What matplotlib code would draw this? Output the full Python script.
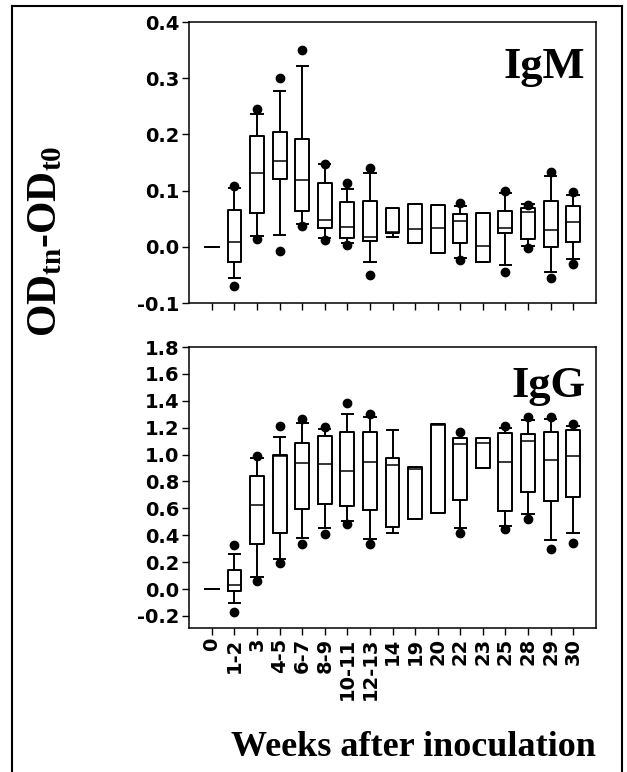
import numpy as np
import matplotlib
matplotlib.use("Agg")
import matplotlib.pyplot as plt
from matplotlib.lines import Line2D

plt.rcParams['mathtext.fontset'] = 'custom'
plt.rcParams['mathtext.rm'] = 'Liberation Serif:bold'
plt.rcParams['mathtext.bf'] = 'Liberation Serif:bold'
plt.rcParams['mathtext.it'] = 'Liberation Serif:bold'

nan = np.nan
categories = ['0', '1-2', '3', '4-5', '6-7', '8-9', '10-11', '12-13', '14',
              '19', '20', '22', '23', '25', '28', '29', '30']

# IgM
igm_q1 = [0, -0.027, 0.061, 0.120, 0.064, 0.033, 0.016, 0.011, 0.025, 0.007, -0.011, 0.007, -0.027, 0.024, 0.014, -0.001, 0.009]
igm_med = [0, 0.008, 0.131, 0.152, 0.119, 0.048, 0.035, 0.017, 0.026, 0.032, 0.034, 0.046, 0.002, 0.034, 0.062, 0.030, 0.044]
igm_q3 = [0, 0.066, 0.197, 0.204, 0.192, 0.113, 0.080, 0.082, 0.069, 0.076, 0.075, 0.059, 0.060, 0.064, 0.069, 0.082, 0.073]
igm_lo = [0, -0.056, 0.020, 0.021, 0.040, 0.015, 0.006, -0.027, 0.018, 0.007, -0.011, -0.020, -0.027, -0.033, 0.001, -0.044, -0.022]
igm_hi = [0, 0.105, 0.237, 0.278, 0.322, 0.147, 0.103, 0.132, 0.069, 0.076, 0.075, 0.073, 0.060, 0.096, 0.076, 0.126, 0.093]
igm_p5 = [nan, -0.070, 0.014, -0.008, 0.037, 0.012, 0.004, -0.051, nan, nan, nan, -0.023, nan, -0.044, -0.002, -0.056, -0.031]
igm_p95 = [nan, 0.108, 0.246, 0.300, 0.350, 0.147, 0.113, 0.141, nan, nan, nan, 0.078, nan, 0.099, 0.075, 0.133, 0.098]

# IgG
igg_q1 = [0, -0.015, 0.335, 0.417, 0.593, 0.630, 0.615, 0.585, 0.461, 0.521, 0.565, 0.662, 0.900, 0.578, 0.722, 0.655, 0.684]
igg_med = [0, 0.027, 0.625, 0.990, 0.937, 0.932, 0.875, 0.945, 0.923, 0.890, 1.220, 1.079, 1.086, 0.945, 1.101, 0.957, 0.992]
igg_q3 = [0, 0.139, 0.843, 1.000, 1.086, 1.138, 1.170, 1.165, 0.975, 0.908, 1.228, 1.124, 1.124, 1.160, 1.155, 1.168, 1.185]
igg_lo = [0, -0.104, 0.089, 0.223, 0.379, 0.454, 0.506, 0.372, 0.417, 0.521, 0.565, 0.454, 0.900, 0.469, 0.560, 0.367, 0.417]
igg_hi = [0, 0.263, 0.972, 1.131, 1.235, 1.193, 1.299, 1.279, 1.183, 0.908, 1.228, 1.124, 1.124, 1.200, 1.255, 1.265, 1.215]
igg_p5 = [nan, -0.174, 0.060, 0.193, 0.335, 0.412, 0.481, 0.332, nan, nan, nan, 0.417, nan, 0.449, 0.523, 0.300, 0.342]
igg_p95 = [nan, 0.330, 0.987, 1.215, 1.265, 1.205, 1.384, 1.299, nan, nan, nan, 1.168, nan, 1.210, 1.279, 1.279, 1.225]

igm_yticks = [-0.1, 0.0, 0.1, 0.2, 0.3, 0.4]
igg_yticks = [-0.2, 0.0, 0.2, 0.4, 0.6, 0.8, 1.0, 1.2, 1.4, 1.6, 1.8]


def make_stats(q1, med, q3, lo, hi, p5, p95):
    stats = []
    for i in range(len(q1)):
        fl = [v for v in (p5[i], p95[i]) if not np.isnan(v)]
        stats.append(dict(q1=q1[i], med=med[i], q3=q3[i], whislo=lo[i],
                          whishi=hi[i], fliers=fl))
    return stats


fig = plt.figure(figsize=(6.27, 7.72), dpi=100)
ax1 = fig.add_axes([0.302, 0.6075, 0.648, 0.364])
ax2 = fig.add_axes([0.302, 0.1865, 0.648, 0.364])

tick_font = dict(family='DejaVu Sans', weight='bold', size=14)
pos = np.arange(len(categories))

for ax, stats, ylim, yt, name, ny in [
        (ax1, make_stats(igm_q1, igm_med, igm_q3, igm_lo, igm_hi, igm_p5, igm_p95),
         (-0.1, 0.4), igm_yticks, 'IgM', 0.80),
        (ax2, make_stats(igg_q1, igg_med, igg_q3, igg_lo, igg_hi, igg_p5, igg_p95),
         (-0.29, 1.8), igg_yticks, 'IgG', 0.822)]:
    ax.bxp(stats, positions=pos, widths=0.62, capwidths=0.5,
           boxprops=dict(color='black', linewidth=1.4),
           medianprops=dict(color='black', linewidth=1.1),
           whiskerprops=dict(color='black', linewidth=1.4),
           capprops=dict(color='black', linewidth=1.4),
           flierprops=dict(marker='o', markerfacecolor='black',
                           markeredgecolor='black', markersize=6))
    ax.set_xlim(-1, 17)
    ax.set_ylim(*ylim)
    ax.set_yticks(yt)
    ax.set_yticklabels(['%.1f' % v for v in yt], fontdict=tick_font)
    ax.set_xticks(pos)
    ax.tick_params(axis='both', direction='out', length=5, width=1, pad=2)
    for s in ax.spines.values():
        s.set_linewidth(1.1)
    ax.text(0.975, ny, name, transform=ax.transAxes, ha='right', va='baseline',
            family='Liberation Serif', weight='bold', fontsize=32)

ax1.set_xticklabels([])
ax2.set_xticklabels(categories, rotation=90, fontdict=tick_font)

fig.text(46 / 627, 1 - 241 / 772, r'OD$_{\mathrm{tn}}$-OD$_{\mathrm{t0}}$',
         rotation=90, ha='center', va='center', family='Liberation Serif',
         weight='bold', fontsize=30)
fig.text(413 / 627, 1 - 748 / 772, 'Weeks after inoculation', ha='center',
         va='center', family='Liberation Serif', weight='bold', fontsize=26)

# outer frame
x0, x1, yt_ = 12 / 627, 622 / 627, 1 - 6 / 772
for xs, ys in [([x0, x0], [-0.05, yt_]), ([x0, x1], [yt_, yt_]), ([x1, x1], [yt_, -0.05])]:
    fig.add_artist(Line2D(xs, ys, color='black', linewidth=1.5, transform=fig.transFigure))

fig.savefig('out.png', dpi=100)
